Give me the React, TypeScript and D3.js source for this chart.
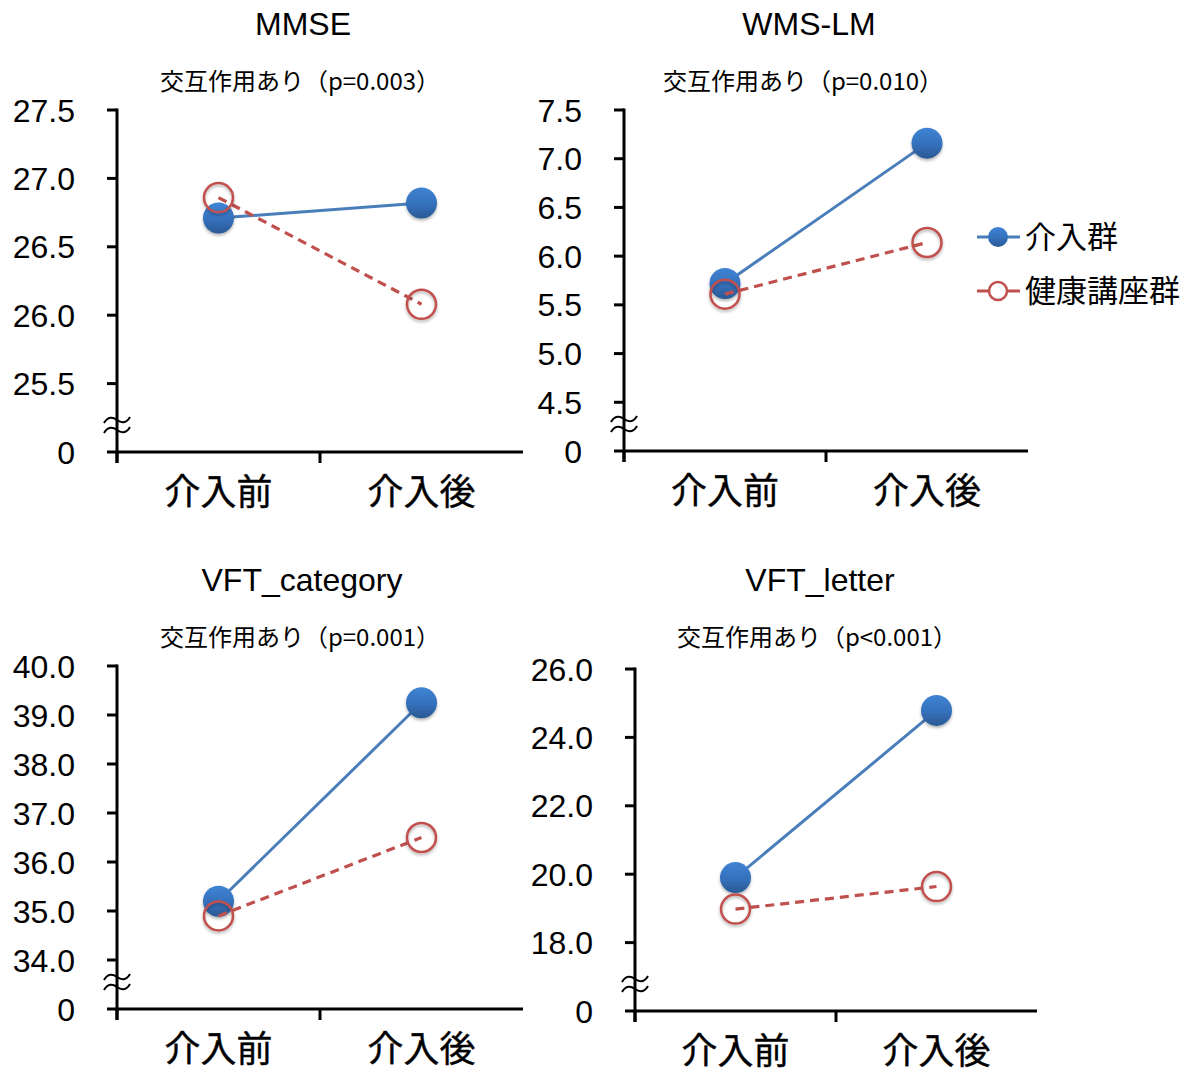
import React from "react";
import * as d3 from "d3";

const categories = ["介入前", "介入後"];
const seriesNames = ["介入群", "健康講座群"];

const panelTitles = ["MMSE", "WMS-LM", "VFT_category", "VFT_letter"];
const panelSubtitles = [
  "交互作用あり（p=0.003）",
  "交互作用あり（p=0.010）",
  "交互作用あり（p=0.001）",
  "交互作用あり（p<0.001）",
];

// values: [介入前, 介入後]
const mmseIntervention = [26.71, 26.82];
const mmseLecture = [26.86, 26.08];
const wmsIntervention = [5.72, 7.16];
const wmsLecture = [5.61, 6.14];
const vftCatIntervention = [35.2, 39.25];
const vftCatLecture = [34.9, 36.5];
const vftLetIntervention = [19.9, 24.79];
const vftLetLecture = [18.98, 19.64];

// y tick values; the lowest domain value is displayed as "0" (axis break)
const mmseTicks = [25.5, 26.0, 26.5, 27.0, 27.5];
const wmsTicks = [4.5, 5.0, 5.5, 6.0, 6.5, 7.0, 7.5];
const vftCatTicks = [34, 35, 36, 37, 38, 39, 40];
const vftLetTicks = [18, 20, 22, 24, 26];
const mmseDomain = [25.0, 27.5];
const wmsDomain = [4.0, 7.5];
const vftCatDomain = [33, 40];
const vftLetDomain = [16, 26];
const breakLabel = "0";

const BLUE_LINE = "#4a7ebb";
const RED = "#c0504d";
const LATIN = "'Liberation Sans', Arial, sans-serif";
const CJK = "'Noto Sans CJK JP', 'Noto Sans', sans-serif";

const layouts = [
  { x0: 117, x1: 523, yTop: 110, yBot: 452, titleX: 303, subX: 300, titleY: 35, subY: 90 },
  { x0: 624, x1: 1028, yTop: 110, yBot: 451, titleX: 809, subX: 803, titleY: 35, subY: 90 },
  { x0: 117, x1: 523, yTop: 666, yBot: 1009, titleX: 302, subX: 300, titleY: 591, subY: 646 },
  { x0: 635, x1: 1037, yTop: 669, yBot: 1011, titleX: 820, subX: 817, titleY: 591, subY: 646 },
];

const panelData = [
  { a: mmseIntervention, b: mmseLecture, ticks: mmseTicks, domain: mmseDomain },
  { a: wmsIntervention, b: wmsLecture, ticks: wmsTicks, domain: wmsDomain },
  { a: vftCatIntervention, b: vftCatLecture, ticks: vftCatTicks, domain: vftCatDomain },
  { a: vftLetIntervention, b: vftLetLecture, ticks: vftLetTicks, domain: vftLetDomain },
];

function Panel({ idx }: { idx: number }) {
  const L = layouts[idx];
  const D = panelData[idx];
  const y = d3.scaleLinear().domain(D.domain).range([L.yBot, L.yTop]);
  const x = d3.scaleBand().domain(categories).range([L.x0, L.x1]);
  const cx = (c: string) => (x(c) as number) + x.bandwidth() / 2;
  const line = d3
    .line<number>()
    .x((_, i) => cx(categories[i]))
    .y((v) => y(v));
  const fmt = d3.format(".1f");
  const breakY = L.yBot - 27;
  const tilde = "M-13,3 C-9,-4 -4,-3 0,0 C4,3 9,4 13,-3";
  const boundaries = [L.x0, (x(categories[0]) as number) + x.bandwidth()];
  return (
    <g>
      <text x={L.titleX} y={L.titleY} textAnchor="middle" fontFamily={LATIN} fontSize={32} fill="#000">
        {panelTitles[idx]}
      </text>
      <text x={L.subX} y={L.subY} textAnchor="middle" fontFamily={CJK} fontSize={24} fill="#000">
        {panelSubtitles[idx]}
      </text>
      {/* y axis */}
      <line x1={L.x0} x2={L.x0} y1={L.yTop - 1.5} y2={L.yBot + 11} stroke="#000" strokeWidth={3} />
      {D.ticks.map((t) => (
        <g key={t}>
          <line x1={L.x0 - 10} x2={L.x0} y1={y(t)} y2={y(t)} stroke="#000" strokeWidth={3} />
          <text
            x={L.x0 - 42}
            y={y(t)}
            dy="0.36em"
            textAnchor="end"
            fontFamily={LATIN}
            fontSize={32}
            fill="#000"
          >
            {fmt(t)}
          </text>
        </g>
      ))}
      <text x={L.x0 - 42} y={L.yBot} dy="0.36em" textAnchor="end" fontFamily={LATIN} fontSize={32} fill="#000">
        {breakLabel}
      </text>
      {/* x axis */}
      <line x1={L.x0 - 10} x2={L.x1} y1={L.yBot} y2={L.yBot} stroke="#000" strokeWidth={3} />
      {boundaries.map((bx, i) => (
        <line key={i} x1={bx} x2={bx} y1={L.yBot} y2={L.yBot + 11} stroke="#000" strokeWidth={3} />
      ))}
      {categories.map((c) => (
        <text
          key={c}
          x={cx(c)}
          y={L.yBot + 53}
          textAnchor="middle"
          fontFamily={CJK}
          fontSize={36}
          fill="#000"
          stroke="#000"
          strokeWidth={0.4}
        >
          {c}
        </text>
      ))}
      {/* break mark */}
      <g transform={`translate(${L.x0},${breakY})`} fill="none" stroke="#000" strokeWidth={2}>
        <path d={tilde} transform="translate(0,-5)" />
        <path d={tilde} transform="translate(0,5)" />
      </g>
      {/* series 1 */}
      <path d={line(D.a) as string} fill="none" stroke={BLUE_LINE} strokeWidth={3} />
      {D.a.map((v, i) => (
        <circle
          key={i}
          cx={cx(categories[i])}
          cy={y(v)}
          r={15.5}
          fill="url(#blueGrad)"
          filter="url(#shadow)"
        />
      ))}
      {/* series 2 */}
      <path d={line(D.b) as string} fill="none" stroke={RED} strokeWidth={3.2} strokeDasharray="9,6" />
      {D.b.map((v, i) => (
        <circle
          key={i}
          cx={cx(categories[i])}
          cy={y(v)}
          r={14.5}
          fill="none"
          stroke={RED}
          strokeWidth={2.5}
          filter="url(#shadow)"
        />
      ))}
    </g>
  );
}

export default function App() {
  const lx0 = 977;
  const lx1 = 1020;
  const lmx = 998;
  const ly = [237, 291];
  return (
    <svg
      width={1185}
      height={1073}
      style={{ position: "absolute", left: 0, top: 0, background: "#fff" }}
    >
      <defs>
        <linearGradient id="blueGrad" x1="0" y1="0" x2="0" y2="1">
          <stop offset="0%" stopColor="#3f84d4" />
          <stop offset="55%" stopColor="#3570bb" />
          <stop offset="100%" stopColor="#2a5994" />
        </linearGradient>
        <filter id="shadow" x="-50%" y="-50%" width="200%" height="200%">
          <feDropShadow dx="0" dy="2" stdDeviation="1.5" floodColor="#000" floodOpacity="0.3" />
        </filter>
      </defs>
      <rect width={1185} height={1073} fill="#fff" />
      {panelTitles.map((_, i) => (
        <Panel key={i} idx={i} />
      ))}
      {/* legend */}
      <line x1={lx0} x2={lx1} y1={ly[0]} y2={ly[0]} stroke={BLUE_LINE} strokeWidth={3} />
      <circle cx={lmx} cy={ly[0]} r={10} fill="url(#blueGrad)" />
      <text x={1025} y={ly[0] + 11} fontFamily={CJK} fontSize={31} fill="#000">
        {seriesNames[0]}
      </text>
      <line x1={lx0} x2={lx1} y1={ly[1]} y2={ly[1]} stroke={RED} strokeWidth={3} />
      <circle cx={lmx} cy={ly[1]} r={9} fill="#fff" stroke={RED} strokeWidth={2.5} />
      <text x={1025} y={ly[1] + 11} fontFamily={CJK} fontSize={31} fill="#000">
        {seriesNames[1]}
      </text>
    </svg>
  );
}
